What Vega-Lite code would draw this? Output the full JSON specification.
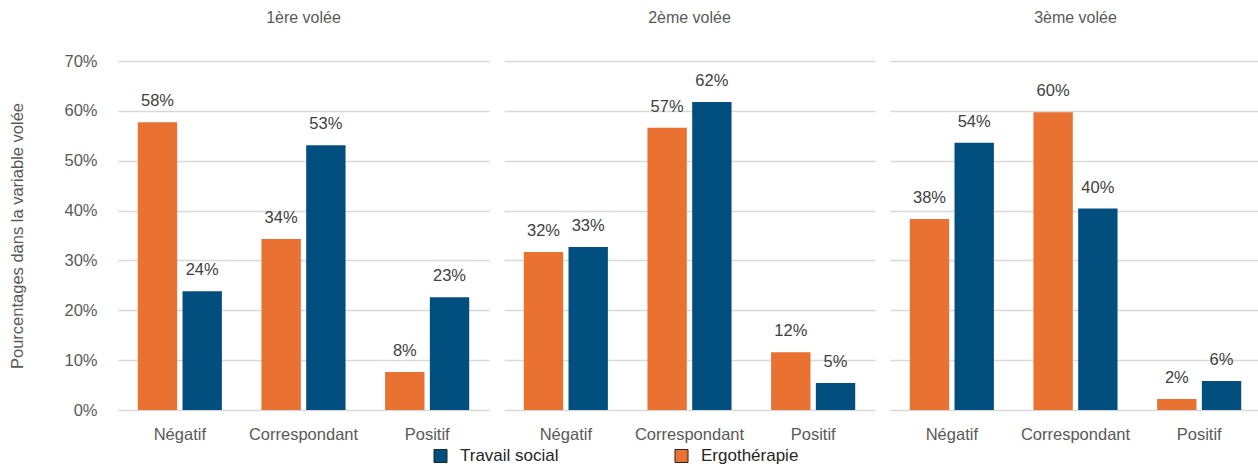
{
  "$schema": "https://vega.github.io/schema/vega-lite/v6.json",
  "padding": {"left": 9, "top": 10, "right": 0, "bottom": 0},
  "background": "white",
  "data": {"values": [
    {"volee": "1ère volée", "cat": "Négatif", "groupe": "Ergothérapie", "pct": 0.577},
    {"volee": "1ère volée", "cat": "Négatif", "groupe": "Travail social", "pct": 0.238},
    {"volee": "1ère volée", "cat": "Correspondant", "groupe": "Ergothérapie", "pct": 0.343},
    {"volee": "1ère volée", "cat": "Correspondant", "groupe": "Travail social", "pct": 0.531},
    {"volee": "1ère volée", "cat": "Positif", "groupe": "Ergothérapie", "pct": 0.076},
    {"volee": "1ère volée", "cat": "Positif", "groupe": "Travail social", "pct": 0.226},
    {"volee": "2ème volée", "cat": "Négatif", "groupe": "Ergothérapie", "pct": 0.317},
    {"volee": "2ème volée", "cat": "Négatif", "groupe": "Travail social", "pct": 0.327},
    {"volee": "2ème volée", "cat": "Correspondant", "groupe": "Ergothérapie", "pct": 0.566},
    {"volee": "2ème volée", "cat": "Correspondant", "groupe": "Travail social", "pct": 0.618},
    {"volee": "2ème volée", "cat": "Positif", "groupe": "Ergothérapie", "pct": 0.116},
    {"volee": "2ème volée", "cat": "Positif", "groupe": "Travail social", "pct": 0.054},
    {"volee": "3ème volée", "cat": "Négatif", "groupe": "Ergothérapie", "pct": 0.383},
    {"volee": "3ème volée", "cat": "Négatif", "groupe": "Travail social", "pct": 0.536},
    {"volee": "3ème volée", "cat": "Correspondant", "groupe": "Ergothérapie", "pct": 0.597},
    {"volee": "3ème volée", "cat": "Correspondant", "groupe": "Travail social", "pct": 0.404},
    {"volee": "3ème volée", "cat": "Positif", "groupe": "Ergothérapie", "pct": 0.022},
    {"volee": "3ème volée", "cat": "Positif", "groupe": "Travail social", "pct": 0.058}
  ]},
  "facet": {
    "column": {
      "field": "volee", "type": "nominal",
      "sort": ["1ère volée", "2ème volée", "3ème volée"],
      "header": {"title": null, "labelFontSize": 16, "labelColor": "#595959", "labelFont": "Liberation Sans", "labelPadding": 35}
    }
  },
  "spacing": 15,
  "spec": {
    "width": 371,
    "height": 349,
    "encoding": {
      "x": {
        "field": "cat", "type": "nominal",
        "sort": ["Négatif", "Correspondant", "Positif"],
        "scale": {"paddingInner": 0.32, "paddingOuter": 0.16},
        "axis": {"title": null, "labelAngle": 0, "domain": false, "ticks": false, "labelFontSize": 16.5, "labelColor": "#595959", "labelFont": "Liberation Sans", "labelPadding": 16}
      },
      "xOffset": {
        "field": "groupe", "type": "nominal",
        "sort": ["Ergothérapie", "Travail social"],
        "scale": {"paddingInner": 0.12}
      },
      "y": {
        "field": "pct", "type": "quantitative",
        "scale": {"domain": [0, 0.7], "nice": false},
        "axis": {"title": "Pourcentages dans la variable volée", "format": ".0%", "values": [0, 0.1, 0.2, 0.3, 0.4, 0.5, 0.6, 0.7], "labelOverlap": false, "domain": false, "ticks": false, "labelFontSize": 16.5, "labelColor": "#595959", "labelFont": "Liberation Sans", "labelPadding": 21, "titleFontSize": 16.5, "titleColor": "#595959", "titleFont": "Liberation Sans", "titleFontWeight": "normal", "titlePadding": 38, "gridColor": "#d9d9d9", "gridWidth": 1.5}
      }
    },
    "layer": [
      {
        "mark": {"type": "bar"},
        "encoding": {
          "color": {
            "field": "groupe", "type": "nominal",
            "scale": {"domain": ["Travail social", "Ergothérapie"], "range": ["#004F7E", "#E97132"]},
            "legend": {"title": null, "orient": "none", "legendX": 314, "legendY": 386, "direction": "horizontal", "symbolType": "square", "symbolSize": 170, "symbolStrokeColor": "#262626", "symbolStrokeWidth": 1, "labelFontSize": 17, "labelColor": "#262626", "labelFont": "Liberation Sans", "columnPadding": 113, "labelOffset": 11}
          }
        }
      },
      {
        "mark": {"type": "text", "dy": -21, "fontSize": 16.5, "font": "Liberation Sans", "color": "#404040"},
        "encoding": {
          "text": {"field": "pct", "type": "quantitative", "format": ".0%"}
        }
      }
    ]
  },
  "config": {
    "view": {"stroke": null}
  }
}
